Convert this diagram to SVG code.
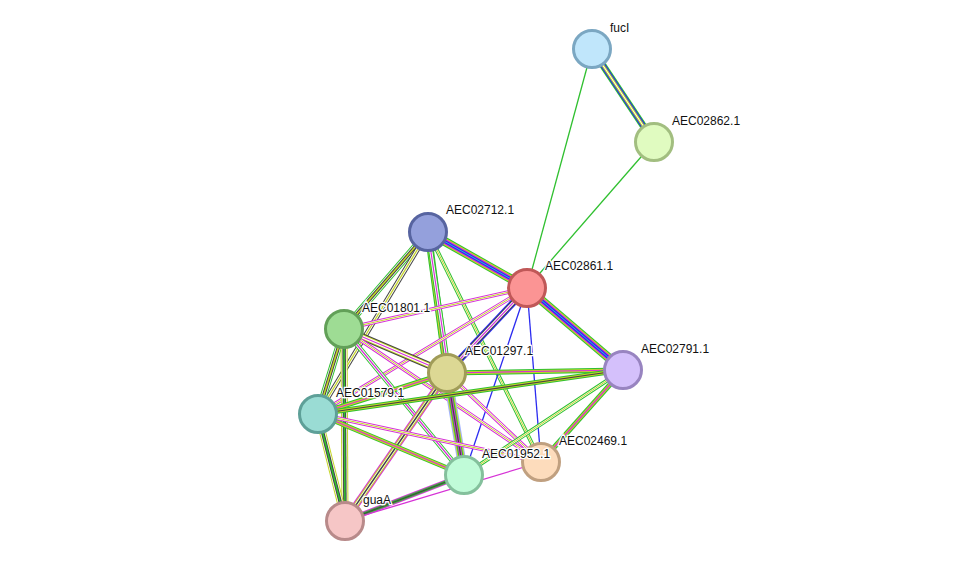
<svg xmlns="http://www.w3.org/2000/svg" width="976" height="567" viewBox="0 0 976 567">
<style>
line{fill:none}
.g{stroke:#2fc02f}.y{stroke:#c6d62a}.m{stroke:#d632d6}.k{stroke:#454545}.b{stroke:#2b2bf0}.c{stroke:#2fb4d6}.l{stroke:#a0b0ff}.w{stroke:#fff}
.n circle{stroke-width:3}
text{font-family:"Liberation Sans",Arial,sans-serif;font-size:12px;fill:#111;paint-order:stroke;stroke:#fff;stroke-width:2.5px}
</style>
<rect width="976" height="567" fill="#fff"/>
<defs>
<line id="e1" x1="592" y1="49" x2="654" y2="142"/>
<line id="e2" x1="592" y1="49" x2="527" y2="288"/>
<line id="e3" x1="654" y1="142" x2="527" y2="288"/>
<line id="e4" x1="428" y1="232" x2="527" y2="288"/>
<line id="e5" x1="428" y1="232" x2="344" y2="329"/>
<line id="e6" x1="428" y1="232" x2="447" y2="373"/>
<line id="e7" x1="428" y1="232" x2="464" y2="475"/>
<line id="e8" x1="428" y1="232" x2="541" y2="462"/>
<line id="e9" x1="428" y1="232" x2="318" y2="414"/>
<line id="e10" x1="527" y1="288" x2="344" y2="329"/>
<line id="e11" x1="527" y1="288" x2="447" y2="373"/>
<line id="e12" x1="527" y1="288" x2="318" y2="414"/>
<line id="e13" x1="527" y1="288" x2="623" y2="370"/>
<line id="e14" x1="527" y1="288" x2="464" y2="475"/>
<line id="e15" x1="527" y1="288" x2="541" y2="462"/>
<line id="e16" x1="344" y1="329" x2="447" y2="373"/>
<line id="e17" x1="344" y1="329" x2="318" y2="414"/>
<line id="e18" x1="344" y1="329" x2="345" y2="521"/>
<line id="e19" x1="344" y1="329" x2="464" y2="475"/>
<line id="e20" x1="344" y1="329" x2="541" y2="462"/>
<line id="e21" x1="447" y1="373" x2="623" y2="370"/>
<line id="e22" x1="447" y1="373" x2="318" y2="414"/>
<line id="e23" x1="447" y1="373" x2="345" y2="521"/>
<line id="e24" x1="447" y1="373" x2="464" y2="475"/>
<line id="e25" x1="447" y1="373" x2="541" y2="462"/>
<line id="e26" x1="318" y1="414" x2="623" y2="370"/>
<line id="e27" x1="318" y1="414" x2="345" y2="521"/>
<line id="e28" x1="318" y1="414" x2="464" y2="475"/>
<line id="e29" x1="318" y1="414" x2="541" y2="462"/>
<line id="e30" x1="623" y1="370" x2="464" y2="475"/>
<line id="e31" x1="623" y1="370" x2="541" y2="462"/>
<line id="e32" x1="464" y1="475" x2="345" y2="521"/>
<line id="e33" x1="541" y1="462" x2="345" y2="521"/>
</defs>
<g id="connectors">
<use href="#e1" class="g" stroke-width="7"/><use href="#e1" class="b" stroke-width="5"/><use href="#e1" class="y" stroke-width="3"/><use href="#e1" class="w" stroke-width="1"/>
<use href="#e2" class="g" stroke-width="1.3"/>
<use href="#e3" class="g" stroke-width="1.3"/>
<use href="#e4" class="g" stroke-width="9"/><use href="#e4" class="y" stroke-width="7"/><use href="#e4" class="m" stroke-width="5"/><use href="#e4" class="b" stroke-width="3"/><use href="#e4" class="c" stroke-width="1"/>
<use href="#e5" class="g" stroke-width="7"/><use href="#e5" class="w" stroke-width="5"/><use href="#e5" class="k" stroke-width="3.5"/><use href="#e5" class="y" stroke-width="1.5"/>
<use href="#e6" class="g" stroke-width="7"/><use href="#e6" class="y" stroke-width="5"/><use href="#e6" class="m" stroke-width="2.5"/>
<use href="#e7" class="g" stroke-width="5"/><use href="#e7" class="w" stroke-width="3"/><use href="#e7" class="m" stroke-width="1.2"/>
<use href="#e8" class="g" stroke-width="4"/><use href="#e8" class="w" stroke-width="2"/><use href="#e8" class="y" stroke-width="1"/>
<use href="#e9" class="k" stroke-width="5"/><use href="#e9" class="w" stroke-width="3"/><use href="#e9" class="y" stroke-width="1.3"/>
<use href="#e10" class="m" stroke-width="4"/><use href="#e10" class="w" stroke-width="2"/><use href="#e10" class="y" stroke-width="1"/>
<use href="#e11" class="b" stroke-width="7"/><use href="#e11" class="k" stroke-width="5"/><use href="#e11" class="w" stroke-width="3"/><use href="#e11" class="m" stroke-width="1.2"/>
<use href="#e12" class="m" stroke-width="4"/><use href="#e12" class="w" stroke-width="2"/><use href="#e12" class="y" stroke-width="1"/>
<use href="#e13" class="g" stroke-width="9"/><use href="#e13" class="y" stroke-width="7"/><use href="#e13" class="m" stroke-width="5"/><use href="#e13" class="b" stroke-width="3"/><use href="#e13" class="c" stroke-width="1"/>
<use href="#e14" class="b" stroke-width="1.3"/>
<use href="#e15" class="b" stroke-width="1.3"/>
<use href="#e16" class="k" stroke-width="7"/><use href="#e16" class="y" stroke-width="5"/><use href="#e16" class="w" stroke-width="3"/><use href="#e16" class="m" stroke-width="1.2"/>
<use href="#e17" class="g" stroke-width="7"/><use href="#e17" class="w" stroke-width="5"/><use href="#e17" class="k" stroke-width="3.5"/><use href="#e17" class="y" stroke-width="1.5"/>
<use href="#e18" class="y" stroke-width="7"/><use href="#e18" class="w" stroke-width="5"/><use href="#e18" class="k" stroke-width="3.5"/><use href="#e18" class="g" stroke-width="1.5"/>
<use href="#e19" class="g" stroke-width="5"/><use href="#e19" class="w" stroke-width="3"/><use href="#e19" class="m" stroke-width="1.2"/>
<use href="#e20" class="m" stroke-width="4"/><use href="#e20" class="w" stroke-width="2"/><use href="#e20" class="y" stroke-width="1"/>
<use href="#e21" class="g" stroke-width="5"/><use href="#e21" class="y" stroke-width="3"/><use href="#e21" class="m" stroke-width="1.2"/>
<use href="#e22" class="g" stroke-width="5"/><use href="#e22" class="y" stroke-width="3"/><use href="#e22" class="m" stroke-width="1.2"/>
<use href="#e23" class="m" stroke-width="7"/><use href="#e23" class="y" stroke-width="5"/><use href="#e23" class="w" stroke-width="3"/><use href="#e23" class="k" stroke-width="1.5"/>
<use href="#e24" class="l" stroke-width="9"/><use href="#e24" class="y" stroke-width="7"/><use href="#e24" class="g" stroke-width="5"/><use href="#e24" class="m" stroke-width="3"/><use href="#e24" class="k" stroke-width="1.2"/>
<use href="#e25" class="m" stroke-width="4"/><use href="#e25" class="w" stroke-width="2"/><use href="#e25" class="y" stroke-width="1"/>
<use href="#e26" class="g" stroke-width="5"/><use href="#e26" class="y" stroke-width="3"/><use href="#e26" class="k" stroke-width="1.2"/>
<use href="#e27" class="y" stroke-width="7"/><use href="#e27" class="w" stroke-width="5"/><use href="#e27" class="k" stroke-width="3.5"/><use href="#e27" class="g" stroke-width="1.5"/>
<use href="#e28" class="g" stroke-width="5"/><use href="#e28" class="y" stroke-width="3"/><use href="#e28" class="m" stroke-width="1.2"/>
<use href="#e29" class="m" stroke-width="4"/><use href="#e29" class="w" stroke-width="2"/><use href="#e29" class="y" stroke-width="1"/>
<use href="#e30" class="g" stroke-width="4"/><use href="#e30" class="w" stroke-width="2"/><use href="#e30" class="y" stroke-width="1"/>
<use href="#e31" class="g" stroke-width="5"/><use href="#e31" class="y" stroke-width="3"/><use href="#e31" class="m" stroke-width="1.2"/>
<use href="#e32" class="m" stroke-width="5"/><use href="#e32" class="g" stroke-width="3"/><use href="#e32" class="k" stroke-width="1.2"/>
<use href="#e33" class="m" stroke-width="1.3"/>
</g>
<g id="fucI" class="n"><circle cx="592" cy="49" r="18.5" fill="#c0e6fb" stroke="#7ba7c2"/><text x="610" y="32">fucI</text></g>
<g id="AEC02862.1" class="n"><circle cx="654" cy="142" r="18.5" fill="#e0fbc0" stroke="#a2be80"/><text x="672" y="125">AEC02862.1</text></g>
<g id="AEC02712.1" class="n"><circle cx="428" cy="232" r="18.5" fill="#94a0dc" stroke="#5764a0"/><text x="446" y="214">AEC02712.1</text></g>
<g id="AEC02861.1" class="n"><circle cx="527" cy="288" r="18.5" fill="#fb9494" stroke="#c05858"/><text x="545" y="270">AEC02861.1</text></g>
<g id="AEC01801.1" class="n"><circle cx="344" cy="329" r="18.5" fill="#9edc94" stroke="#62a058"/><text x="362" y="312">AEC01801.1</text></g>
<g id="AEC01297.1" class="n"><circle cx="447" cy="373" r="18.5" fill="#dcd894" stroke="#a09c58"/><text x="465" y="355">AEC01297.1</text></g>
<g id="AEC02791.1" class="n"><circle cx="623" cy="370" r="18.5" fill="#d4c0fb" stroke="#9884c0"/><text x="641" y="353">AEC02791.1</text></g>
<g id="AEC01579.1" class="n"><circle cx="318" cy="414" r="18.5" fill="#9adcd4" stroke="#5ea098"/><text x="336" y="397">AEC01579.1</text></g>
<g id="AEC02469.1" class="n"><circle cx="541" cy="462" r="18.5" fill="#fddcbc" stroke="#c0a080"/><text x="559" y="445">AEC02469.1</text></g>
<g id="AEC01952.1" class="n"><circle cx="464" cy="475" r="18.5" fill="#c0fbd8" stroke="#84c09c"/><text x="482" y="458">AEC01952.1</text></g>
<g id="guaA" class="n"><circle cx="345" cy="521" r="18.5" fill="#f6c6c6" stroke="#b88a8a"/><text x="363" y="504">guaA</text></g>
</svg>
